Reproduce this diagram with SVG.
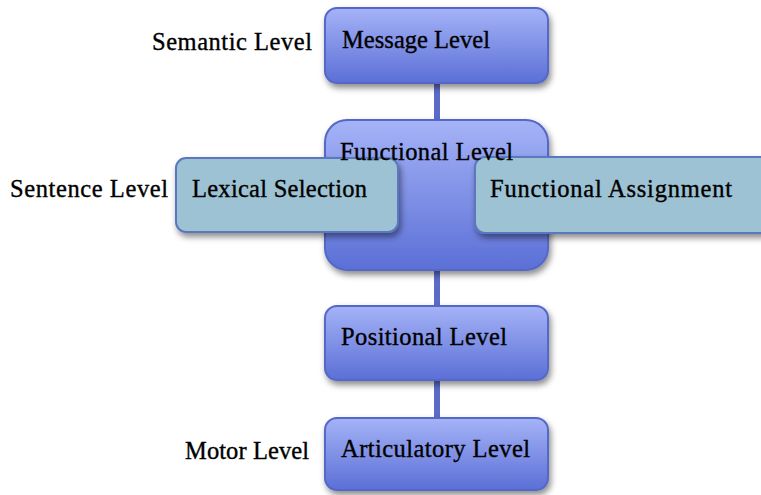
<svg xmlns="http://www.w3.org/2000/svg" width="761" height="495" viewBox="0 0 761 495">
<style>
text{font-family:"Liberation Serif","DejaVu Serif",serif;font-size:24.5px;fill:#000;stroke:#000;stroke-width:0.35;}
.blue{fill:url(#gb);stroke:#5468c8;stroke-width:2;filter:url(#sh);}
.light{fill:#9dc2d3;stroke:#5a78c0;stroke-width:2;filter:url(#sh);}
.conn{stroke:#5a6cc8;stroke-width:6;}
</style>
<defs>
<linearGradient id="gb" x1="0" y1="0" x2="0" y2="1">
<stop offset="0" stop-color="#a5b3f7"/>
<stop offset="1" stop-color="#5b6fd6"/>
</linearGradient>
<filter id="sh" x="-10%" y="-10%" width="125%" height="140%">
<feDropShadow dx="2" dy="4" stdDeviation="3" flood-color="#000" flood-opacity="0.45"/>
</filter>
</defs>
<g id="connectors">
<line class="conn" x1="437" y1="82" x2="437" y2="122"/>
<line class="conn" x1="437" y1="268" x2="437" y2="308"/>
<line class="conn" x1="437" y1="379" x2="437" y2="420"/>
</g>
<g id="label-semantic"><text x="152" y="50" textLength="160">Semantic Level</text></g>
<g id="label-sentence"><text x="10" y="197" textLength="158">Sentence Level</text></g>
<g id="label-motor"><text x="185" y="459" textLength="124">Motor Level</text></g>
<g id="message">
<rect class="blue" x="325" y="8" width="223" height="75" rx="12"/>
<text x="342" y="48" textLength="148">Message Level</text>
</g>
<g id="functional">
<rect class="blue" x="325" y="120" width="223" height="150" rx="22"/>
</g>
<g id="lexical">
<rect class="light" x="176" y="158" width="222" height="74" rx="10"/>
<text x="192" y="197" textLength="175">Lexical Selection</text>
</g>
<g id="assignment">
<rect class="light" x="475" y="157" width="300" height="76" rx="10"/>
<text x="490" y="197" textLength="242">Functional Assignment</text>
</g>
<g id="functional-label"><text x="340" y="160" textLength="173">Functional Level</text></g>
<g id="positional">
<rect class="blue" x="325" y="306" width="223" height="74" rx="12"/>
<text x="341" y="345" textLength="166">Positional Level</text>
</g>
<g id="articulatory">
<rect class="blue" x="325" y="418" width="223" height="72" rx="12"/>
<text x="341" y="457" textLength="189">Articulatory Level</text>
</g>
</svg>
